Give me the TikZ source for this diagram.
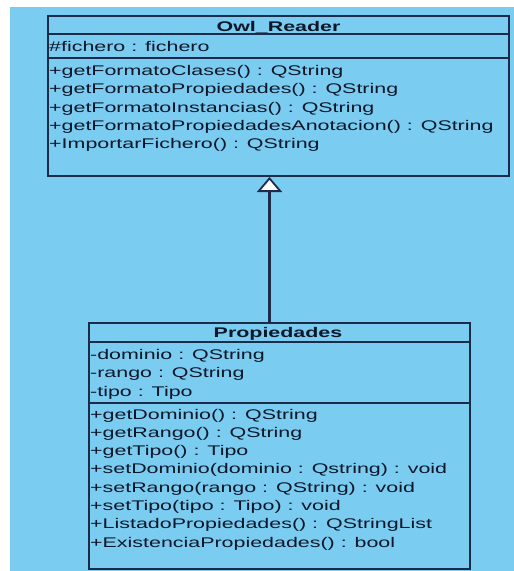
\documentclass[tikz,border=0pt]{standalone}
\usepackage{fontspec}
\setmainfont[FakeStretch=1.53]{Liberation Sans}
\usetikzlibrary{arrows.meta,calc}
\definecolor{bgblue}{HTML}{7ACCF0}
\definecolor{edgecol}{HTML}{1C2B4A}
\definecolor{ink}{HTML}{0E1629}
\tikzset{
  cls/.style={draw=edgecol, line width=2pt, fill=bgblue, rectangle, inner sep=0pt},
  divline/.style={draw=edgecol, line width=1.7pt},
  txt/.style={anchor=base west, inner sep=0pt, text=ink, font=\fontsize{14}{18}\selectfont},
  ttl/.style={anchor=base, inner sep=0pt, text=ink, font=\fontsize{14}{18}\selectfont\bfseries},
  inherit/.style={draw=edgecol, line width=2.2pt, -{Triangle[open, width=25pt, length=15pt, fill=white, line width=1.8pt]}}
}
\begin{document}
\begin{tikzpicture}[x=1pt,y=-1pt]
\useasboundingbox (0,0) rectangle (514,571);
\fill[white] (0,0) rectangle (514,571);
\fill[bgblue] (10,7) rectangle (514,571);

% classes
\node[cls, minimum width=461pt, minimum height=160pt] (owl) at (278.5,96) {};
\node[cls, minimum width=381pt, minimum height=246pt] (prop) at (279.5,446) {};

% inheritance
\draw[inherit] ([xshift=-10pt]prop.north) -- ([xshift=-9pt]owl.south);

% Owl_Reader compartments
\draw[divline] (owl.west |- 0,34) -- (owl.east |- 0,34);
\draw[divline] (owl.west |- 0,58) -- (owl.east |- 0,58);
\node[ttl] (owlt) at (278.5,31) {Owl\_Reader};
\node[txt] (oa1) at (49,51) {\#fichero : fichero};
\node[txt] (om1) at (49,75.5) {+getFormatoClases() : QString};
\node[txt] (om2) at (49,93.75) {+getFormatoPropiedades() : QString};
\node[txt] (om3) at (49,112) {+getFormatoInstancias() : QString};
\node[txt] (om4) at (49,130.25) {+getFormatoPropiedadesAnotacion() : QString};
\node[txt] (om5) at (49,148.5) {+ImportarFichero() : QString};

% Propiedades compartments
\draw[divline] (prop.west |- 0,342) -- (prop.east |- 0,342);
\draw[divline] (prop.west |- 0,403) -- (prop.east |- 0,403);
\node[ttl] (propt) at (278,337) {Propiedades};
\node[txt] (pa1) at (90,359) {-dominio : QString};
\node[txt] (pa2) at (90,377.5) {-rango : QString};
\node[txt] (pa3) at (90,396) {-tipo : Tipo};
\node[txt] (pm1) at (90,419) {+getDominio() : QString};
\node[txt] (pm2) at (90,437.3) {+getRango() : QString};
\node[txt] (pm3) at (90,455.6) {+getTipo() : Tipo};
\node[txt] (pm4) at (90,473.9) {+setDominio(dominio : Qstring) : void};
\node[txt] (pm5) at (90,492.2) {+setRango(rango : QString) : void};
\node[txt] (pm6) at (90,510.5) {+setTipo(tipo : Tipo) : void};
\node[txt] (pm7) at (90,528.8) {+ListadoPropiedades() : QStringList};
\node[txt] (pm8) at (90,547.1) {+ExistenciaPropiedades() : bool};
\end{tikzpicture}
\end{document}
